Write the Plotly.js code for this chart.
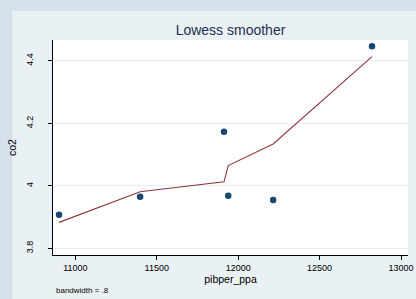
<!DOCTYPE html>
<html>
<head>
<meta charset="utf-8">
<script src="https://cdn.plot.ly/plotly-3.0.1.min.js"></script>
<style>html,body{margin:0;padding:0;background:#d5e0ec;}#chart{width:416px;height:299px;}</style>
</head>
<body>
<div id="chart"></div>
<script>
// Observed data
const pibper_ppa = [10900, 11398, 11913, 11939, 12215, 12822];
const co2 = [3.907, 3.965, 4.173, 3.968, 3.955, 4.447];
// Lowess fitted values (bandwidth = .8)
const lowessFit = [3.883, 3.981, 4.013, 4.065, 4.134, 4.414];
const xTicks = [11000, 11500, 12000, 12500, 13000];
const yTicks = [3.8, 4, 4.2, 4.4];
const yTickText = ['3.8', '4', '4.2', '4.4'];

const traces = [
  {
    x: pibper_ppa, y: co2, type: 'scatter', mode: 'markers',
    marker: {color: '#1a476f', size: 6.5}, hoverinfo: 'none'
  },
  {
    x: pibper_ppa, y: lowessFit, type: 'scatter', mode: 'lines',
    line: {color: '#90353b', width: 1.1}, hoverinfo: 'none'
  }
];

const W = 416, H = 299;
const L = 52.7, R = 8, T = 40, B = 44;
const pw = W - L - R, ph = H - T - B;
function px(x) { return (x - L) / pw; }
function py(y) { return (H - B - y) / ph; }

const layout = {
  width: W, height: H,
  margin: {l: L, r: R, t: T, b: B, pad: 0},
  paper_bgcolor: '#d5e0ec',
  plot_bgcolor: 'rgba(0,0,0,0)',
  showlegend: false,
  font: {family: 'Liberation Sans, Arial, sans-serif', color: '#000000'},
  title: {
    text: 'Lowess smoother',
    font: {size: 14, color: '#1e2f50', family: 'Liberation Sans, Arial, sans-serif'},
    x: 0.5, xref: 'paper', xanchor: 'center',
    y: 1 - 30 / H, yref: 'container', yanchor: 'middle'
  },
  xaxis: {
    range: [10863, 13043],
    tickmode: 'array', tickvals: xTicks, tickformat: 'd',
    ticks: 'outside', ticklen: 4, tickcolor: '#000', tickwidth: 1,
    showline: true, linecolor: '#000', linewidth: 1,
    showgrid: false, zeroline: false,
    tickfont: {size: 9, color: '#000'},
    title: {text: 'pibper_ppa', font: {size: 10.5, color: '#000'}, standoff: 0}
  },
  yaxis: {
    range: [3.7785, 4.467],
    tickmode: 'array', tickvals: yTicks, ticktext: yTickText,
    tickangle: -90,
    ticks: 'outside', ticklen: 4, tickcolor: '#000', tickwidth: 1,
    showline: true, linecolor: '#000', linewidth: 1,
    showgrid: true, gridcolor: '#e6eef2', gridwidth: 1, zeroline: false,
    tickfont: {size: 9, color: '#000'},
    ticklabelstandoff: 11,
    title: {text: 'co2', font: {size: 10.5, color: '#000'}, standoff: 6}
  },
  shapes: [
    {type: 'rect', xref: 'paper', yref: 'paper', layer: 'below',
     x0: px(12), x1: px(417), y0: py(300), y1: py(11),
     fillcolor: '#eaf1f4', line: {width: 0}},
    {type: 'rect', xref: 'paper', yref: 'paper', layer: 'below',
     x0: 0, x1: 1, y0: 0, y1: 1,
     fillcolor: '#ffffff', line: {width: 0}}
  ],
  annotations: [
    {text: 'bandwidth = .8', xref: 'paper', yref: 'paper',
     x: px(54), y: py(290), xanchor: 'left', yanchor: 'middle',
     showarrow: false, font: {size: 8, color: '#000'}}
  ]
};

Plotly.newPlot('chart', traces, layout, {displayModeBar: false, staticPlot: true});
</script>
</body>
</html>
